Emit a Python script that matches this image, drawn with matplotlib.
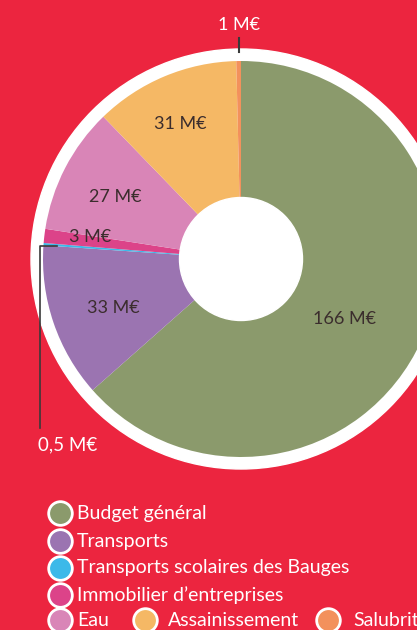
import numpy as np
import matplotlib
matplotlib.use("Agg")
import matplotlib.pyplot as plt
from matplotlib.patches import Circle

plt.rcParams["font.family"] = ["Lato", "DejaVu Sans"]

# Budgets (M€), clockwise from 12 o'clock
categories = [
    "Budget général",
    "Transports",
    "Transports scolaires des Bauges",
    "Immobilier d\u2019entreprises",
    "Eau",
    "Assainissement",
    "Salubrité",
]
values = [166, 33, 0.5, 3, 27, 31, 1]
value_labels = ["166 M€", "33 M€", "0,5 M€", "3 M€", "27 M€", "31 M€", "1 M€"]
colors = ["#8b9a6c", "#9b74b1", "#3cb9e9", "#dc4389", "#d985b7", "#f5b865", "#f3915c"]

BG = "#ec253f"
W, H = 417, 630
cx, cy = 241, H - 259
R = 198

fig = plt.figure(figsize=(W / 100, H / 100), dpi=100, facecolor=BG)
ax = fig.add_axes([0, 0, 1, 1])
ax.set_facecolor(BG)

# white ring around the pie
ax.add_patch(Circle((cx, cy), 210, color="white", zorder=0))

wedges, _ = ax.pie(
    values,
    colors=colors,
    startangle=90,
    counterclock=False,
    center=(cx, cy),
    radius=R,
    wedgeprops=dict(linewidth=0),
)

# donut hole
ax.add_patch(Circle((cx, cy), 61.5, color="white", zorder=5))

# in-slice labels: (radius, angle offset) per slice
inside = {0: (120, -6), 1: (137, 2), 3: (152, -1.5), 4: (140, 1), 5: (148, 1.5)}
for i, (rr, da) in inside.items():
    w = wedges[i]
    mid = np.deg2rad((w.theta1 + w.theta2) / 2 + da)
    ax.text(cx + rr * np.cos(mid), cy + rr * np.sin(mid), value_labels[i],
            ha="center", va="center", fontsize=13, color="#3b2d2d", zorder=6)

# 1 M€ label at the top
w = wedges[6]
a = np.deg2rad((w.theta1 + w.theta2) / 2)
x0 = cx + R * np.cos(a)
ax.plot([x0, x0], [H - 52, H - 38], color="#3a3a3a", lw=1.5, zorder=6)
ax.text(x0, H - 25, value_labels[6], ha="center", va="center",
        fontsize=13, color="white")

# 0,5 M€ label with elbow leader line
w = wedges[2]
a = np.deg2rad(max(w.theta1, w.theta2))
xe, ye = cx + (R - 14) * np.cos(a), cy + (R - 14) * np.sin(a)
ax.plot([xe, 40, 40], [ye, ye, H - 428], color="#3a3a3a", lw=1.2, zorder=6)
ax.text(38, H - 445, value_labels[2], ha="left", va="center",
        fontsize=13.5, color="white")

# legend (last entry runs off the right edge, as in the original)
legend_pos = [(60, 513), (60, 541), (60, 568), (60, 595), (60, 620), (145, 620), (328, 620)]
text_gap = [17, 17, 17, 17, 17, 23, 25]
for (lx, ly), gap, lab, col in zip(legend_pos, text_gap, categories, colors):
    ax.scatter([lx], [H - ly], s=290, color=col, edgecolor="white", linewidth=2, zorder=6)
    ax.text(lx + gap, H - ly, lab, ha="left", va="center", fontsize=14,
            color="white", zorder=6)

ax.set_xlim(0, W)
ax.set_ylim(0, H)
ax.set_aspect("auto")
ax.axis("off")

fig.savefig("out.png", dpi=100, facecolor=BG)
